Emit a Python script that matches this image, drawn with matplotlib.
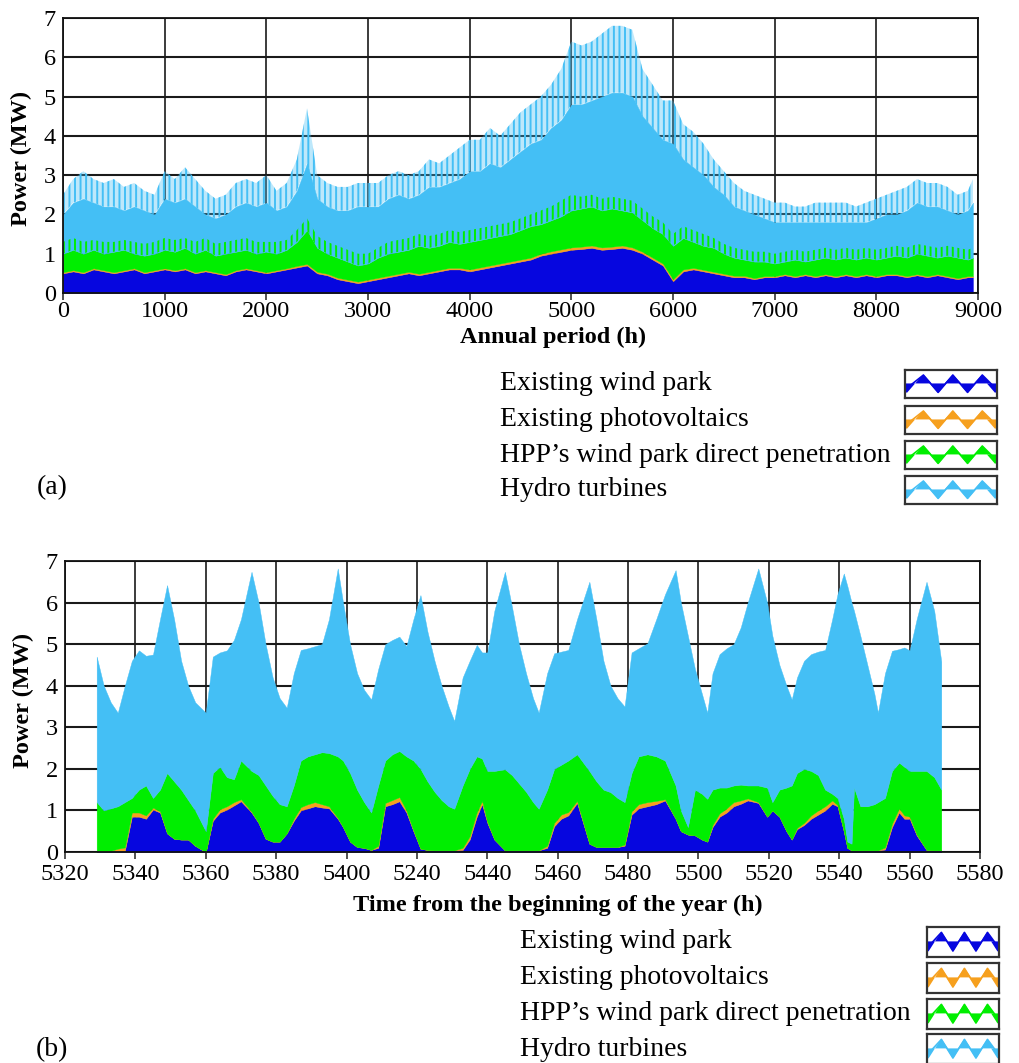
import numpy as np
import matplotlib
matplotlib.use("Agg")
import matplotlib.pyplot as plt

plt.rcParams['font.family'] = ['Liberation Serif', 'DejaVu Serif']
plt.rcParams['hatch.linewidth'] = 1.4

# ---------------- colours ----------------
C_WIND = '#0606df'
C_PV = '#f6a01e'
C_HPP = '#00ee00'
C_HYDRO = '#44bff5'

legend_labels = ["Existing wind park", "Existing photovoltaics",
                 "HPP\u2019s wind park direct penetration", "Hydro turbines"]

# ---------------- panel (a): annual period (levels read as stacked tops) ----------------
hours_a = list(range(0, 9000, 100)) + [8950]

wind_top_a = [0.5, 0.55, 0.5, 0.6, 0.55, 0.5, 0.55, 0.6, 0.5, 0.55,
              0.6, 0.55, 0.6, 0.5, 0.55, 0.5, 0.45, 0.55, 0.6, 0.55,
              0.5, 0.55, 0.6, 0.65, 0.7, 0.5, 0.45, 0.35, 0.3, 0.25,
              0.3, 0.35, 0.4, 0.45, 0.5, 0.45, 0.5, 0.55, 0.6, 0.6,
              0.55, 0.6, 0.65, 0.7, 0.75, 0.8, 0.85, 0.95, 1.0, 1.05,
              1.1, 1.12, 1.15, 1.1, 1.12, 1.15, 1.1, 1.0, 0.85, 0.7,
              0.3, 0.55, 0.6, 0.55, 0.5, 0.45, 0.4, 0.4, 0.35, 0.4,
              0.4, 0.45, 0.4, 0.45, 0.4, 0.45, 0.4, 0.45, 0.4, 0.45,
              0.4, 0.45, 0.45, 0.4, 0.45, 0.4, 0.45, 0.4, 0.35, 0.4, 0.4]

pv_top_a = [0.53, 0.58, 0.53, 0.63, 0.58, 0.53, 0.58, 0.63, 0.53, 0.58,
            0.63, 0.58, 0.63, 0.53, 0.58, 0.53, 0.48, 0.58, 0.63, 0.58,
            0.53, 0.58, 0.63, 0.69, 0.74, 0.54, 0.49, 0.39, 0.34, 0.29,
            0.34, 0.39, 0.44, 0.49, 0.54, 0.49, 0.54, 0.59, 0.64, 0.64,
            0.6, 0.65, 0.7, 0.75, 0.8, 0.85, 0.9, 1.0, 1.06, 1.11,
            1.16, 1.18, 1.21, 1.16, 1.18, 1.21, 1.16, 1.05, 0.9, 0.75,
            0.35, 0.6, 0.64, 0.59, 0.54, 0.49, 0.44, 0.44, 0.38, 0.43,
            0.43, 0.48, 0.43, 0.48, 0.43, 0.48, 0.43, 0.48, 0.43, 0.48,
            0.43, 0.48, 0.48, 0.43, 0.48, 0.43, 0.48, 0.43, 0.38, 0.43, 0.43]

hpp_top_a = [1.0, 1.1, 1.0, 1.1, 1.0, 1.05, 1.1, 1.0, 0.95, 1.0,
             1.1, 1.05, 1.15, 1.0, 1.1, 0.95, 1.0, 1.05, 1.1, 1.0,
             1.05, 1.0, 1.1, 1.3, 1.6, 1.15, 1.0, 0.9, 0.8, 0.7,
             0.75, 0.9, 1.0, 1.05, 1.1, 1.2, 1.15, 1.2, 1.3, 1.25,
             1.3, 1.35, 1.4, 1.45, 1.5, 1.6, 1.7, 1.75, 1.85, 1.95,
             2.1, 2.15, 2.2, 2.1, 2.15, 2.1, 2.05, 1.85, 1.65, 1.5,
             1.2, 1.4, 1.3, 1.2, 1.15, 1.0, 0.9, 0.85, 0.8, 0.8,
             0.75, 0.8, 0.85, 0.8, 0.85, 0.9, 0.85, 0.9, 0.85, 0.9,
             0.85, 0.9, 0.95, 0.9, 1.0, 0.95, 0.9, 0.95, 0.9, 0.85, 0.9]

hpp_peak_a = [1.3, 1.4, 1.3, 1.35, 1.3, 1.3, 1.35, 1.3, 1.25, 1.3,
              1.4, 1.35, 1.4, 1.3, 1.4, 1.25, 1.3, 1.35, 1.4, 1.3,
              1.3, 1.3, 1.35, 1.6, 1.9, 1.45, 1.3, 1.2, 1.1, 1.0,
              1.0, 1.15, 1.3, 1.35, 1.4, 1.5, 1.45, 1.5, 1.6, 1.55,
              1.6, 1.65, 1.7, 1.75, 1.8, 1.9, 2.0, 2.1, 2.2, 2.35,
              2.5, 2.45, 2.5, 2.4, 2.45, 2.4, 2.35, 2.15, 1.95, 1.8,
              1.5, 1.7, 1.6, 1.5, 1.4, 1.25, 1.15, 1.1, 1.05, 1.05,
              1.0, 1.05, 1.1, 1.05, 1.1, 1.15, 1.1, 1.15, 1.1, 1.15,
              1.1, 1.15, 1.2, 1.15, 1.25, 1.2, 1.15, 1.2, 1.15, 1.1, 1.15]

hydro_top_a = [2.0, 2.3, 2.4, 2.3, 2.2, 2.2, 2.1, 2.2, 2.1, 2.0,
               2.4, 2.3, 2.4, 2.2, 2.0, 1.9, 2.0, 2.2, 2.3, 2.2,
               2.3, 2.1, 2.2, 2.6, 3.3, 2.4, 2.2, 2.1, 2.1, 2.2,
               2.2, 2.2, 2.4, 2.5, 2.4, 2.5, 2.7, 2.7, 2.8, 2.9,
               3.1, 3.1, 3.3, 3.2, 3.4, 3.6, 3.8, 3.9, 4.2, 4.4,
               4.8, 4.8, 4.9, 5.0, 5.1, 5.1, 5.0, 4.5, 4.2, 3.9,
               3.8, 3.4, 3.2, 3.0, 2.7, 2.5, 2.2, 2.1, 2.0, 1.9,
               1.8, 1.8, 1.8, 1.8, 1.8, 1.8, 1.8, 1.8, 1.8, 1.8,
               1.9, 2.0, 2.0, 2.1, 2.3, 2.2, 2.2, 2.1, 2.0, 2.1, 2.3]

hydro_peak_a = [2.5, 2.9, 3.1, 2.9, 2.8, 2.9, 2.7, 2.8, 2.6, 2.5,
                3.1, 2.9, 3.2, 2.9, 2.6, 2.4, 2.5, 2.8, 2.9, 2.8,
                3.0, 2.6, 2.8, 3.4, 4.7, 3.0, 2.8, 2.7, 2.7, 2.8,
                2.8, 2.8, 3.0, 3.1, 3.0, 3.1, 3.4, 3.3, 3.5, 3.7,
                3.9, 3.9, 4.2, 4.0, 4.3, 4.6, 4.8, 5.0, 5.3, 5.7,
                6.4, 6.3, 6.4, 6.6, 6.8, 6.8, 6.7, 5.7, 5.3, 4.9,
                4.9, 4.3, 4.1, 3.8, 3.4, 3.1, 2.8, 2.6, 2.5, 2.4,
                2.3, 2.3, 2.2, 2.2, 2.3, 2.3, 2.3, 2.3, 2.2, 2.3,
                2.4, 2.5, 2.6, 2.7, 2.9, 2.8, 2.8, 2.7, 2.5, 2.6, 2.9]

# ---------------- panel (b): 10-day detail (levels read as stacked tops) ----------------
hours_b = [5329, 5331, 5333, 5335, 5337, 5339, 5341, 5343, 5345, 5347, 5349, 5351, 5353, 5355,
           5357, 5360, 5362, 5364, 5366, 5368, 5370, 5373, 5375, 5377, 5379, 5381, 5383, 5385,
           5387, 5389, 5391, 5393, 5395, 5397.5, 5399, 5401, 5403, 5405, 5407, 5409, 5411, 5413,
           5415, 5417, 5419, 5421, 5423, 5425, 5427, 5429, 5430.6, 5433, 5435, 5437, 5438.5, 5440,
           5442, 5445, 5447, 5449, 5451, 5453, 5454.6, 5457, 5459, 5461, 5463, 5465.5, 5469, 5471,
           5473, 5475, 5477, 5479, 5481, 5483, 5485.5, 5488, 5490.5, 5493.5, 5495, 5497, 5499, 5501,
           5502.5, 5504, 5506, 5508, 5510, 5512, 5514, 5517, 5519.5, 5521, 5523, 5525, 5526.5, 5528,
           5530, 5532, 5534, 5536, 5538, 5539.5, 5541.3, 5542.3, 5543.5, 5544.2, 5546, 5548, 5550,
           5551, 5553, 5555, 5557, 5558.5, 5560, 5562, 5564.8, 5567, 5569]

wind_top_b = [0.02, 0.02, 0.03, 0.03, 0.03, 0.85, 0.85, 0.8, 1.02, 0.95, 0.45, 0.32, 0.3, 0.3,
              0.15, 0.0, 0.75, 0.95, 1.02, 1.12, 1.22, 0.95, 0.7, 0.32, 0.25, 0.25, 0.45, 0.75,
              1.0, 1.05, 1.1, 1.07, 1.05, 0.8, 0.6, 0.25, 0.12, 0.1, 0.05, 0.1, 1.1, 1.15,
              1.22, 0.95, 0.5, 0.08, 0.05, 0.04, 0.04, 0.04, 0.04, 0.05, 0.3, 0.85, 1.15, 0.7,
              0.3, 0.04, 0.04, 0.04, 0.04, 0.04, 0.04, 0.1, 0.62, 0.8, 0.88, 1.18, 0.2, 0.12,
              0.12, 0.12, 0.12, 0.15, 0.9, 1.05, 1.1, 1.15, 1.24, 0.8, 0.5, 0.42, 0.4, 0.3,
              0.25, 0.6, 0.85, 0.95, 1.1, 1.16, 1.24, 1.18, 0.85, 1.0, 0.85, 0.5, 0.3, 0.55,
              0.65, 0.8, 0.9, 1.0, 1.16, 1.1, 0.5, 0.1, 0.04, 0.04, 0.04, 0.04, 0.04,
              0.04, 0.06, 0.6, 0.95, 0.8, 0.8, 0.4, 0.05, 0.04, 0.04]

pv_top_b = [0.02, 0.02, 0.03, 0.08, 0.11, 0.95, 0.95, 0.88, 1.07, 0.98, 0.45, 0.32, 0.3, 0.3,
            0.15, 0.0, 0.8, 1.03, 1.1, 1.2, 1.27, 0.97, 0.7, 0.32, 0.25, 0.25, 0.45, 0.8,
            1.08, 1.15, 1.2, 1.15, 1.1, 0.82, 0.6, 0.25, 0.12, 0.1, 0.05, 0.15, 1.18, 1.25,
            1.32, 1.0, 0.52, 0.08, 0.05, 0.04, 0.04, 0.04, 0.04, 0.1, 0.38, 0.95, 1.23, 0.73,
            0.3, 0.04, 0.04, 0.04, 0.04, 0.04, 0.04, 0.15, 0.7, 0.9, 0.96, 1.23, 0.2, 0.12,
            0.12, 0.12, 0.12, 0.18, 0.98, 1.15, 1.2, 1.23, 1.27, 0.8, 0.5, 0.42, 0.4, 0.3,
            0.25, 0.65, 0.93, 1.05, 1.2, 1.24, 1.29, 1.2, 0.85, 1.0, 0.85, 0.5, 0.3, 0.58,
            0.7, 0.88, 1.0, 1.1, 1.24, 1.13, 0.5, 0.1, 0.04, 0.04, 0.04, 0.04, 0.04,
            0.04, 0.11, 0.68, 1.05, 0.88, 0.85, 0.42, 0.05, 0.04, 0.04]

hpp_top_b = [1.2, 1.0, 1.05, 1.1, 1.2, 1.3, 1.5, 1.6, 1.3, 1.5, 1.9, 1.7, 1.5, 1.25,
             1.0, 0.5, 1.9, 2.05, 1.8, 1.75, 2.2, 1.95, 1.85, 1.6, 1.35, 1.15, 1.1, 1.6,
             2.2, 2.3, 2.35, 2.4, 2.38, 2.3, 2.2, 1.9, 1.5, 1.2, 0.95, 1.6, 2.2, 2.35,
             2.43, 2.3, 2.2, 2.0, 1.7, 1.45, 1.25, 1.1, 1.04, 1.6, 2.0, 2.3, 2.25, 1.95,
             1.95, 1.99, 1.85, 1.65, 1.45, 1.2, 1.04, 1.5, 2.0, 2.1, 2.2, 2.35, 1.95, 1.7,
             1.5, 1.44, 1.3, 1.2, 1.9, 2.3, 2.35, 2.3, 2.2, 1.6, 1.0, 0.6, 1.5, 1.4,
             1.28, 1.5, 1.55, 1.55, 1.6, 1.62, 1.6, 1.6, 1.55, 1.2, 1.5, 1.55, 1.6, 1.9,
             2.0, 1.95, 1.85, 1.5, 1.4, 1.3, 0.8, 0.25, 0.2, 1.55, 1.1, 1.1, 1.15,
             1.2, 1.3, 1.95, 2.15, 2.05, 1.95, 1.95, 1.95, 1.8, 1.5]

hydro_top_b = [4.7, 4.0, 3.6, 3.35, 4.0, 4.6, 4.85, 4.72, 4.75, 5.6, 6.42, 5.6, 4.6, 4.0,
               3.6, 3.35, 4.7, 4.8, 4.85, 5.1, 5.6, 6.74, 6.0, 5.0, 4.2, 3.7, 3.47, 4.3,
               4.86, 4.9, 4.95, 5.0, 5.6, 6.82, 6.0, 5.0, 4.3, 3.9, 3.67, 4.4, 5.0, 5.1,
               5.18, 4.95, 5.6, 6.18, 5.3, 4.6, 4.0, 3.5, 3.15, 4.2, 4.6, 4.98, 4.8, 4.8,
               5.8, 6.74, 5.9, 5.0, 4.3, 3.7, 3.35, 4.3, 4.78, 4.82, 4.86, 5.6, 6.5, 5.6,
               4.6, 4.0, 3.7, 3.5, 4.8, 4.9, 5.02, 5.6, 6.2, 6.78, 6.0, 5.2, 4.4, 3.8,
               3.35, 4.3, 4.76, 4.9, 5.0, 5.4, 6.0, 6.82, 6.0, 5.2, 4.5, 4.0, 3.67, 4.2,
               4.6, 4.76, 4.82, 4.86, 5.6, 6.2, 6.7, 6.4, 6.0, 5.8, 5.2, 4.5, 3.8,
               3.35, 4.3, 4.84, 4.88, 4.92, 4.85, 5.6, 6.5, 5.8, 4.58]

tick_vals_b = [5320, 5340, 5360, 5380, 5400, 5420, 5440, 5460, 5480, 5500, 5520, 5540, 5560, 5580]
tick_labels_b = ["5320", "5340", "5360", "5380", "5400", "5240", "5440", "5460", "5480",
                 "5500", "5520", "5540", "5560", "5580"]

# ---------------- figure ----------------
W, H = 1019, 1063
fig = plt.figure(figsize=(W / 100, H / 100), dpi=100)


def px_axes(x0, y0, x1, y1):
    return fig.add_axes([x0 / W, 1 - y1 / H, (x1 - x0) / W, (y1 - y0) / H])


TICK_FS = 17.5


def style_axes(ax):
    ax.set_ylim(0, 7)
    ax.set_yticks(range(0, 8))
    ax.set_axisbelow(True)
    ax.yaxis.grid(True, color='#1a1a1a', lw=1.5)
    ax.xaxis.grid(True, color='#1a1a1a', lw=1.2)
    for s in ax.spines.values():
        s.set_color('#111111')
        s.set_linewidth(1.3)
    ax.tick_params(axis='y', length=0, pad=5, labelsize=TICK_FS)
    ax.tick_params(axis='x', length=5, width=1.2, direction='out', pad=1, labelsize=TICK_FS,
                   color='#333333')


# panel (a)
axa = px_axes(63, 18, 978, 293)
style_axes(axa)
ha = np.array(hours_a)
axa.fill_between(ha, 0, wind_top_a, color=C_WIND, lw=0.3, zorder=2)
axa.fill_between(ha, wind_top_a, pv_top_a, color=C_PV, lw=0.3, zorder=2)
axa.fill_between(ha, pv_top_a, hpp_top_a, color=C_HPP, lw=0.3, zorder=2)
axa.fill_between(ha, hpp_top_a, hydro_top_a, color=C_HYDRO, lw=0.3, zorder=2)
axa.fill_between(ha, hydro_top_a, hydro_peak_a, facecolor=C_HYDRO, alpha=0.35, lw=0, zorder=2)
axa.fill_between(ha, hydro_top_a, hydro_peak_a, facecolor='none', edgecolor=C_HYDRO,
                 hatch='|||', lw=0, zorder=2)
axa.fill_between(ha, hpp_top_a, hpp_peak_a, facecolor='none', edgecolor=C_HPP,
                 hatch='|||', lw=0, zorder=2)
axa.set_xlim(0, 9000)
axa.set_xticks(range(0, 9001, 1000))

# panel (b)
axb = px_axes(65, 561, 980, 852)
style_axes(axb)
hb = np.array(hours_b)
axb.fill_between(hb, 0, wind_top_b, color=C_WIND, lw=0.3, zorder=2)
axb.fill_between(hb, wind_top_b, pv_top_b, color=C_PV, lw=0.3, zorder=2)
axb.fill_between(hb, pv_top_b, hpp_top_b, color=C_HPP, lw=0.3, zorder=2)
axb.fill_between(hb, hpp_top_b, hydro_top_b, color=C_HYDRO, lw=0.3, zorder=2)
axb.set_xlim(5320, 5580)
axb.set_xticks(tick_vals_b)
axb.set_xticklabels(tick_labels_b)
axb.tick_params(axis='x', pad=4)

# axis labels
LAB_FS = 17.5
fig.text(21 / W, 1 - 158 / H, "Power (MW)", rotation=90, fontsize=LAB_FS, fontweight='bold',
         ha='center', va='center')
fig.text(23 / W, 1 - 700 / H, "Power (MW)", rotation=90, fontsize=LAB_FS, fontweight='bold',
         ha='center', va='center')
fig.text(553 / W, 1 - 337 / H, "Annual period (h)", fontsize=LAB_FS, fontweight='bold',
         ha='center', va='center')
fig.text(558 / W, 1 - 905 / H, "Time from the beginning of the year (h)", fontsize=LAB_FS,
         fontweight='bold', ha='center', va='center')

# legends
colors = [C_WIND, C_PV, C_HPP, C_HYDRO]
LEG_FS = 20
rows_a = [384, 420, 455, 490]
rows_b = [942, 978, 1014, 1049]
for lab, y in zip(legend_labels, rows_a):
    fig.text(500 / W, 1 - y / H, lab, fontsize=LEG_FS, ha='left', va='center')
for lab, y in zip(legend_labels, rows_b):
    fig.text(520 / W, 1 - y / H, lab, fontsize=LEG_FS, ha='left', va='center')

fig.text(37 / W, 1 - 488 / H, "(a)", fontsize=LEG_FS, ha='left', va='center')
fig.text(36 / W, 1 - 1050 / H, "(b)", fontsize=LEG_FS, ha='left', va='center')


def icon(x0, y0, w, h, color):
    ax = px_axes(x0, y0, x0 + w, y0 + h)
    ax.set_xlim(0, 1)
    ax.set_ylim(0, 1)
    ax.set_xticks([])
    ax.set_yticks([])
    for s in ax.spines.values():
        s.set_color('#333333')
        s.set_linewidth(1.6)
    # thin zigzag through the apexes
    xs = [0.0, 0.2, 0.36, 0.52, 0.68, 0.84, 1.0]
    ys = [0.3, 0.82, 0.2, 0.82, 0.2, 0.82, 0.3]
    ax.plot(xs, ys, color=color, lw=1.2)
    hw = 0.09
    base = 0.52
    for xc in [0.2, 0.52, 0.84]:
        ax.fill([xc - hw, xc + hw, xc], [base, base, 0.84], color=color, lw=0)
    for xc in [0.02, 0.36, 0.68, 0.98]:
        ax.fill([xc - hw, xc + hw, xc], [base, base, 0.18], color=color, lw=0)


for c, y in zip(colors, [370, 406, 441, 476]):
    icon(905, y, 92, 28, c)
for c, y in zip(colors, [927, 963, 999, 1034]):
    icon(927, y, 72, 30, c)

fig.savefig("out.png", dpi=100)
